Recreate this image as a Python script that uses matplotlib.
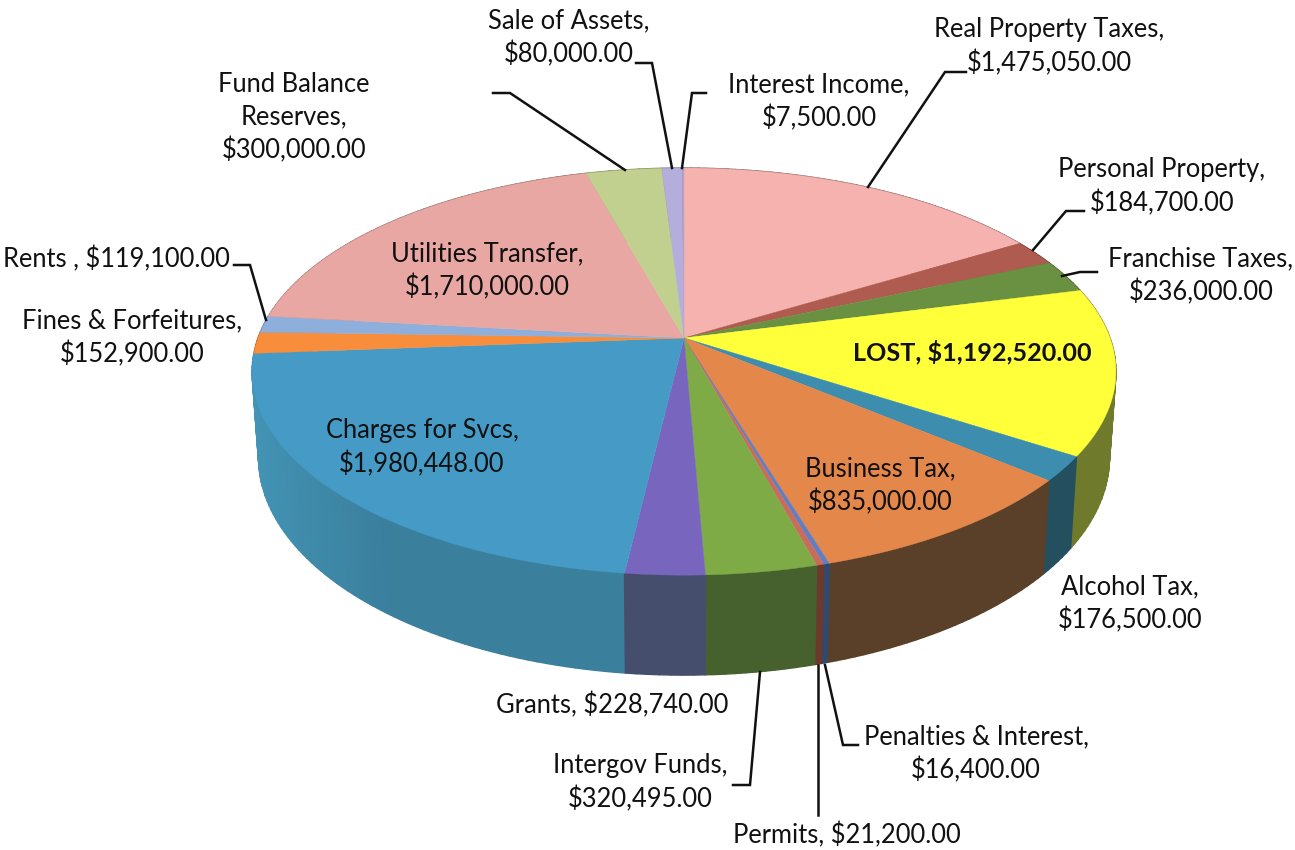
import numpy as np
import matplotlib
matplotlib.use("Agg")
import matplotlib.pyplot as plt
from matplotlib.patches import Polygon

plt.rcParams['font.family'] = ['Lato', 'DejaVu Sans']

# ---- data ----
categories = ["Real Property Taxes", "Personal Property", "Franchise Taxes", "LOST",
              "Alcohol Tax", "Business Tax", "Penalties & Interest", "Permits",
              "Intergov Funds", "Grants", "Charges for Svcs", "Fines & Forfeitures",
              "Rents ", "Utilities Transfer", "Fund Balance Reserves", "Sale of Assets",
              "Interest Income"]
values = [1475050, 184700, 236000, 1192520, 176500, 835000, 16400, 21200,
          320495, 228740, 1980448, 152900, 119100, 1710000, 300000, 80000, 7500]
top_colors = ["#F6B2AF", "#AF5B50", "#6A9142", "#FFFF3A", "#3D8DAE", "#E4874B",
              "#5F7FC4", "#C96C5C", "#7FAB47", "#7865BE", "#459AC6", "#F88E3C",
              "#8EAEDC", "#E8A7A3", "#C1D08F", "#B3AEDB", "#B8A0C8"]
side_colors = ["#7A5855", "#5A2E28", "#3A5024", "#6F7A2C", "#234F5F", "#5A4029",
               "#2F4A72", "#6B3A2C", "#46602E", "#464E6E", "#3A7F9C", "#8A5020",
               "#506080", "#806060", "#6A7550", "#605E78", "#605070"]
# text, centre x, centre y (pixel layout)
labels = [("Real Property Taxes,\n$1,475,050.00", 1049, 47),
          ("Personal Property,\n$184,700.00", 1162, 187),
          ("Franchise Taxes,\n$236,000.00", 1201, 276),
          ("LOST, $1,192,520.00", 972, 352),
          ("Business Tax,\n$835,000.00", 880, 486),
          ("Alcohol Tax,\n$176,500.00", 1130, 604),
          ("Penalties & Interest,\n$16,400.00", 976, 754),
          ("Permits, $21,200.00", 847, 835),
          ("Intergov Funds,\n$320,495.00", 640, 783),
          ("Grants, $228,740.00", 612, 705),
          ("Charges for Svcs,\n$1,980,448.00", 422, 448),
          ("Fines & Forfeitures,\n$152,900.00", 132, 338),
          ("Rents , $119,100.00", 116, 259),
          ("Utilities Transfer,\n$1,710,000.00", 487, 271),
          ("Fund Balance\nReserves,\n$300,000.00", 294, 118),
          ("Sale of Assets,\n$80,000.00", 569, 38),
          ("Interest Income,\n$7,500.00", 819, 102)]
leaders = [[(493, 93), (510, 93), (625, 170)],
           [(636, 63), (652, 63), (672, 168)],
           [(706, 93), (692, 93), (682, 168)],
           [(966, 72), (945, 72), (868, 187)],
           [(1084, 211), (1066, 211), (1033, 250)],
           [(1097, 272), (1080, 272), (1062, 276)],
           [(234, 265), (250, 265), (266, 320)],
           [(858, 745), (843, 745), (825, 665)],
           [(818, 815), (818, 665)],
           [(733, 785), (750, 785), (760, 672)]]

# ---- projection of the disc ----
CX, CY = 684, 338
A, B, K, D = 426, 198, 0.165, 83.5
BOTTOM_SCALE = 0.985


def project(theta, z=0.0):
    X = np.sin(theta)
    Y = np.cos(theta)
    w = 1 + K * Y
    s = 1 - (1 - BOTTOM_SCALE) * z
    return CX + s * A * X / w, CY + (-B * Y + z * D) / w


fig = plt.figure(figsize=(12.95, 8.5), dpi=100)
ax = fig.add_axes([0, 0, 1, 1])
ax.set_xlim(0, 1295)
ax.set_ylim(850, 0)
ax.axis('off')

edges = np.concatenate([[0], np.cumsum(values)]) / np.sum(values) * 2 * np.pi

# side strips, back to front; same-colour edges hide the seams
strips = []
for i in range(len(values)):
    n = max(2, int((edges[i + 1] - edges[i]) / 0.02))
    t = np.linspace(edges[i], edges[i + 1], n + 1)
    for a, b in zip(t[:-1], t[1:]):
        strips.append((i, a, b))
order = sorted(strips, key=lambda s: -np.cos((s[1] + s[2]) / 2))
for i, a, b in order:
    mid = (a + b) / 2
    gain = 1 + 0.45 * max(0.0, -np.sin(mid) - 0.6)
    rgb = np.clip(np.array(matplotlib.colors.to_rgb(side_colors[i])) * gain, 0, 1)
    x0, y0 = project(a)
    x1, y1 = project(b)
    x2, y2 = project(b, z=1)
    x3, y3 = project(a, z=1)
    ax.add_patch(Polygon([(x0, y0), (x1, y1), (x2, y2), (x3, y3)], closed=True,
                         fc=rgb, ec=rgb, lw=1.0, joinstyle='round', zorder=1))

# top wedges
for i in range(len(values)):
    t = np.linspace(edges[i], edges[i + 1], max(3, int((edges[i + 1] - edges[i]) / 0.01)))
    px, py = project(t)
    pts = [(CX, CY)] + list(zip(px, py))
    ax.add_patch(Polygon(pts, closed=True, fc=top_colors[i], ec=top_colors[i], lw=0.3, zorder=2))

for pts in leaders:
    xs, ys = zip(*pts)
    ax.plot(xs, ys, color="#111111", lw=1.8, zorder=3, solid_joinstyle='miter')

for text, x, y in labels:
    is_lost = text.startswith("LOST")
    ax.text(x, y, text, ha='center', va='center', fontsize=18.1 if is_lost else 18.4,
            color="#111111", linespacing=1.37, weight='bold' if is_lost else 'normal', zorder=4)

fig.savefig("out.png", dpi=100)
